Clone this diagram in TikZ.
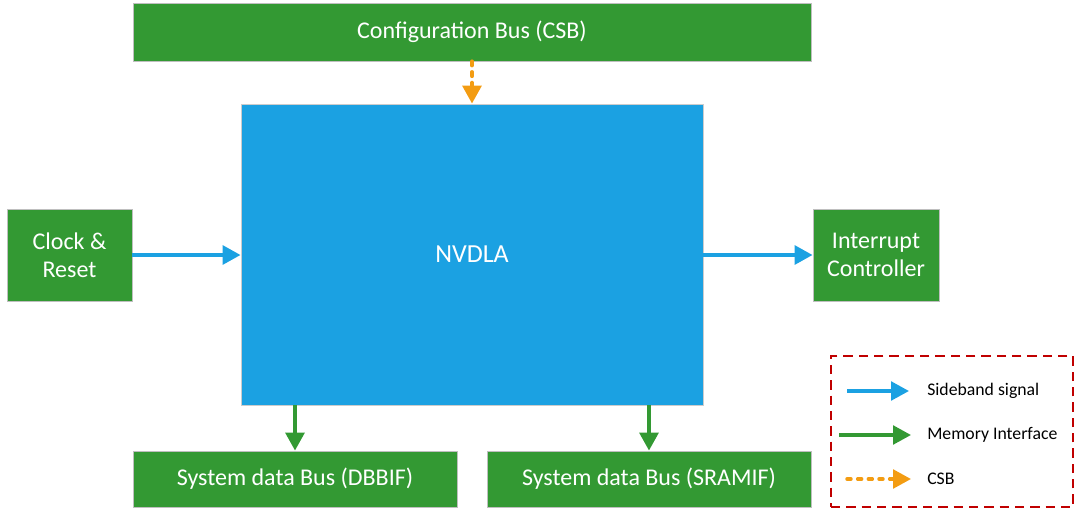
\documentclass[tikz,border=0pt]{standalone}
\usepackage{fontspec}
\setmainfont{Carlito}
\usepackage{xcolor}
\usetikzlibrary{positioning, arrows.meta, shadows}

\definecolor{dlagreen}{HTML}{339933}
\definecolor{dlablue}{HTML}{1BA1E2}
\definecolor{dlaorange}{HTML}{F39C12}
\definecolor{dlared}{HTML}{C00000}

\tikzset{
    unit/.style={rectangle, fill=dlagreen, draw=black!25, line width=0.6pt, text=white, font=\fontsize{18}{21}\selectfont, align=center, inner sep=0pt, drop shadow={opacity=0.12, shadow xshift=1pt, shadow yshift=-1pt}},
    side/.style={draw=dlablue, line width=3pt, -{Triangle[length=13.5pt, width=14pt]}},
    mem/.style={draw=dlagreen, line width=3pt, -{Triangle[length=13.5pt, width=14pt]}},
    csbline/.style={draw=dlaorange, line width=3pt, dash pattern=on 3pt off 5pt, line cap=round, -{Triangle[length=13.5pt, width=14pt, line cap=butt, sep=0pt]}},
    legtext/.style={anchor=west, font=\fontsize{13.3}{16}\selectfont, inner sep=0pt}
}

\begin{document}
\begin{tikzpicture}[x=0.75pt, y=-0.75pt]
    \useasboundingbox (0, 0) rectangle (1076, 519);

    \node[unit, minimum width=508.5pt, minimum height=43.5pt] (csb) at (472, 32) {Configuration Bus (CSB)};
    \node[rectangle, fill=dlablue, draw=black!20, line width=0.6pt, text=white, font=\fontsize{19.5}{23}\selectfont, minimum width=346.5pt, minimum height=225.75pt, inner sep=0pt, drop shadow={opacity=0.12, shadow xshift=1pt, shadow yshift=-1pt}] (nvdla) at (472, 254.5) {NVDLA};
    \node[unit, minimum width=93.75pt, minimum height=69pt] (clock) at (69.5, 255) {Clock \&\\Reset};
    \node[unit, minimum width=94.5pt, minimum height=69pt] (intr) at (876, 255) {Interrupt\\Controller};
    \node[unit, minimum width=243pt, minimum height=42pt] (dbbif) at (295, 479) {System data Bus (DBBIF)};
    \node[unit, minimum width=243pt, minimum height=42pt] (sramif) at (649, 479) {System data Bus (SRAMIF)};

    \draw[csbline] (csb.south) -- (nvdla.north);
    \draw[side] (clock.east) -- (clock.east -| nvdla.west);
    \draw[side] (nvdla.east |- intr.west) -- (intr.west);
    \draw[mem] (dbbif.north |- nvdla.south) -- (dbbif.north);
    \draw[mem] (sramif.north |- nvdla.south) -- (sramif.north);

    % legend
    \node[draw=dlared, line width=1.2pt, dash pattern=on 7pt off 4.5pt, minimum width=181.5pt, minimum height=113.25pt, inner sep=0pt] (legend) at (952, 431.5) {};
    \coordinate (sa) at (847, 391);
    \coordinate (sb) at (909, 391);
    \coordinate (ma) at (839, 435);
    \coordinate (mb) at (911, 435);
    \coordinate (ca) at (847, 479);
    \coordinate (cb) at (911, 479);
    \draw[side, line width=2.6pt] (sa) -- (sb);
    \draw[mem, line width=2.6pt] (ma) -- (mb);
    \draw[csbline, line width=2.6pt] (ca) -- (cb);
    \node[legtext] (stext) at (927, 391) {Sideband signal};
    \node[legtext] (mtext) at (927, 435) {Memory Interface};
    \node[legtext] (ctext) at (927, 479) {CSB};
\end{tikzpicture}
\end{document}
